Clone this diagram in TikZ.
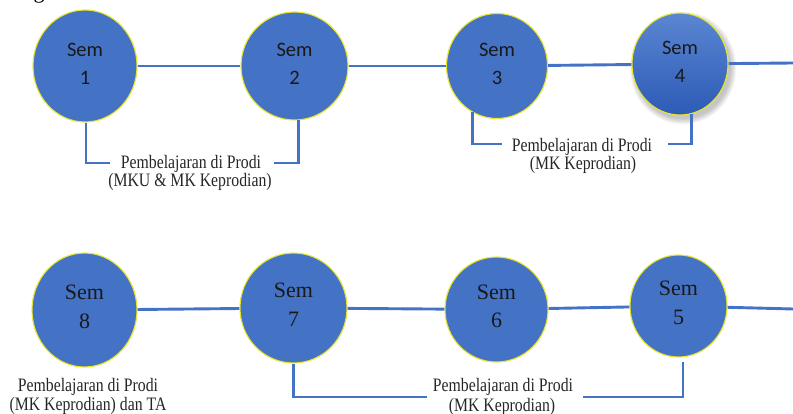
\documentclass[tikz,border=0pt]{standalone}
\usepackage{fontspec}
\setmainfont{Liberation Serif}
\newfontfamily\semsans{Carlito}
\newfontfamily\lblfont[FakeStretch=0.83]{Liberation Serif}
\usetikzlibrary{shapes.geometric}
\definecolor{officeblue}{HTML}{4472C4}
\definecolor{rimyellow}{RGB}{232,230,40}
\definecolor{semtop}{HTML}{5A86D2}
\definecolor{sembot}{HTML}{2D5BB6}
\begin{document}
\begin{tikzpicture}[x=1pt,y=-1pt,
  sem/.style={ellipse, draw=rimyellow, line width=1.1pt, fill=officeblue,
    inner sep=0pt, align=center, text=black!90},
  topsem/.style={sem, font=\semsans\fontsize{20.5}{28}\selectfont, text depth=4pt},
  botsem/.style={sem, font=\fontsize{22}{28.5}\selectfont, text depth=7pt},
  link/.style={draw=officeblue, line width=2.9pt},
  lbl/.style={anchor=base, inner sep=0pt, text=black!85,
    font=\lblfont\fontsize{19}{19}\selectfont},
]
\useasboundingbox (0,0) rectangle (793,414);

% tail of the caption line above
\node[anchor=base, inner sep=0pt, font=\fontsize{22}{22}\selectfont] (capg) at (39,-1.5) {g};

% soft shadow under semester 4
\foreach \k in {1,...,8}
  \fill[black, opacity=0.03] (683,68) ellipse [x radius={47pt+\k*0.8pt}, y radius={50pt+\k*0.8pt}];

% first year row
\node[topsem, minimum width=104pt, minimum height=112pt] (s1) at (85,66) {Sem\\1};
\node[topsem, minimum width=107pt, minimum height=108pt] (s2) at (294.5,66) {Sem\\2};
\node[topsem, minimum width=101pt, minimum height=105pt] (s3) at (497,66) {Sem\\3};
\node[topsem, minimum width=96pt, minimum height=102pt, top color=semtop, bottom color=sembot] (s4) at (680,64) {Sem\\4};
\coordinate (e4) at (793,63);

% second row, running right to left
\node[botsem, minimum width=105pt, minimum height=114pt] (s8) at (84.5,310) {Sem\\8};
\node[botsem, minimum width=107pt, minimum height=110pt] (s7) at (293.5,308) {Sem\\7};
\node[botsem, minimum width=103pt, minimum height=105pt] (s6) at (496.5,309.5) {Sem\\6};
\node[botsem, minimum width=97pt, minimum height=102pt] (s5) at (678.5,306) {Sem\\5};
\coordinate (e5) at (793,309);

% chain links
\draw[link] (s1) -- (s2);
\draw[link] (s2) -- (s3);
\draw[link] (s3) -- (s4);
\draw[link] (s4) -- (e4);
\draw[link] (s8) -- (s7);
\draw[link] (s7) -- (s6);
\draw[link] (s6) -- (s5);
\draw[link] (s5) -- (e5);

% group labels
\node[lbl] (l1a) at (191,168.5) {Pembelajaran di Prodi};
\node[lbl] (l1b) at (190,186.5) {(MKU \& MK Keprodian)};
\node[lbl] (l2a) at (582,151.5) {Pembelajaran di Prodi};
\node[lbl] (l2b) at (583,170) {(MK Keprodian)};
\node[lbl] (l3a) at (88,391.5) {Pembelajaran di Prodi};
\node[lbl] (l3b) at (88,410) {(MK Keprodian) dan TA};
\node[lbl] (l4a) at (503,391.5) {Pembelajaran di Prodi};
\node[lbl] (l4b) at (502,411) {(MK Keprodian)};

% brackets joining semesters of a group
\coordinate (b1l) at (110,163);
\coordinate (b1r) at (274,163);
\coordinate (b2l) at (502,144);
\coordinate (b2r) at (668,144);
\coordinate (b3l) at (427,397);
\coordinate (b3r) at (583,397);
\draw[link] (s1.271) |- (b1l);
\draw[link] (s2.274) |- (b1r);
\draw[link] (s3.242) |- (b2l);
\draw[link] (s4.283) |- (b2r);
\draw[link] (s7.south) |- (b3l);
\draw[link, shorten <=5pt] (s5.275) |- (b3r);
\end{tikzpicture}
\end{document}
